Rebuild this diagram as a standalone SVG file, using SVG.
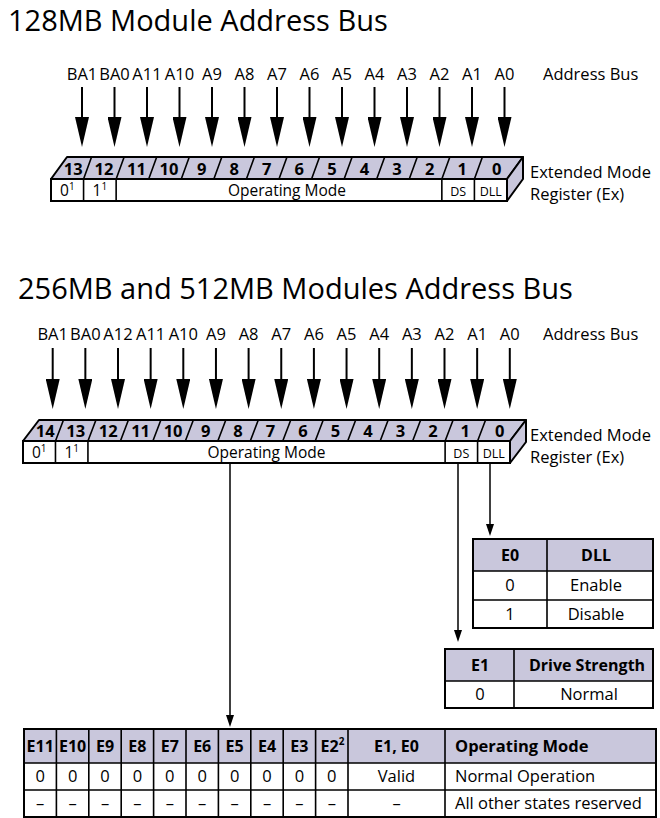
<svg xmlns="http://www.w3.org/2000/svg" width="660" height="818" viewBox="0 0 660 818">
<style>
text{font-family:"Open Sans","Noto Sans","DejaVu Sans",sans-serif;fill:#000}
.title{font-size:29px}
.lbl{font-size:16.5px;text-anchor:middle}
.side{font-size:16.5px}
.num{font-size:16.5px;font-weight:bold;text-anchor:middle}
.cell{font-size:15.5px;text-anchor:middle}
.small{font-size:12.5px;text-anchor:middle}
.sup{font-size:10px}
.th{font-size:16px;font-weight:bold;text-anchor:middle}
.thl{font-size:16.5px;font-weight:bold}
.td{font-size:16.5px;text-anchor:middle}
.tl{font-size:16.5px}
.face{fill:#c9c7dc;stroke:#000;stroke-width:2;stroke-linejoin:round}
.box{fill:none;stroke:#000;stroke-width:2}
.ln{stroke:#000;stroke-width:1.6;fill:none}
.hd{fill:#c9c7dc}
.bus{stroke:#000;stroke-width:2;marker-end:url(#big)}
.wire{stroke:#000;stroke-width:1.5;fill:none;marker-end:url(#sm)}
</style>
<defs>
<marker id="big" markerUnits="userSpaceOnUse" viewBox="0 0 30 14" refX="1" refY="7" markerWidth="30" markerHeight="14" orient="auto"><path d="M0,0 L30,7 L0,14 z" fill="#000"/></marker>
<marker id="sm" markerUnits="userSpaceOnUse" viewBox="0 0 12 8" refX="1" refY="4" markerWidth="12" markerHeight="8" orient="auto"><path d="M0,0 L12,4 L0,8 z" fill="#000"/></marker>
</defs>

<text class="title" x="8" y="31">128MB Module Address Bus</text>
<text class="title" x="18" y="299">256MB and 512MB Modules Address Bus</text>

<g id="bus1">
<text class="side" x="543" y="80">Address Bus</text>
<text class="lbl" x="82" y="80">BA1</text>
<text class="lbl" x="114.5" y="80">BA0</text>
<text class="lbl" x="147" y="80">A11</text>
<text class="lbl" x="179.5" y="80">A10</text>
<text class="lbl" x="212" y="80">A9</text>
<text class="lbl" x="244.5" y="80">A8</text>
<text class="lbl" x="277" y="80">A7</text>
<text class="lbl" x="309.5" y="80">A6</text>
<text class="lbl" x="342" y="80">A5</text>
<text class="lbl" x="374.5" y="80">A4</text>
<text class="lbl" x="407" y="80">A3</text>
<text class="lbl" x="439.5" y="80">A2</text>
<text class="lbl" x="472" y="80">A1</text>
<text class="lbl" x="504.5" y="80">A0</text>
</g>

<g id="register1">
<path class="face" d="M51,179 L67,157 L523,157 L507,179 Z"/>
<path class="face" d="M507,179 L523,157 L523,179 L507,201 Z"/>
<rect class="box" x="51" y="179" width="456" height="22" fill="#fff"/>
<g class="ln">
<path d="M83.57,179 l8,-22 M116.14,179 l8,-22 M148.71,179 l8,-22 M181.28,179 l8,-22 M213.85,179 l8,-22 M246.42,179 l8,-22 M278.99,179 l8,-22 M311.56,179 l8,-22 M344.13,179 l8,-22 M376.7,179 l8,-22 M409.27,179 l8,-22 M441.84,179 l8,-22 M474.41,179 l8,-22"/>
<path d="M83.57,179 V201 M116.14,179 V201 M441.84,179 V201 M474.41,179 V201"/>
</g>
<text class="num" x="73.3" y="174.5">13</text>
<text class="num" x="103.9" y="174.5">12</text>
<text class="num" x="136.4" y="174.5">11</text>
<text class="num" x="169" y="174.5">10</text>
<text class="num" x="201.6" y="174.5">9</text>
<text class="num" x="234.2" y="174.5">8</text>
<text class="num" x="266.7" y="174.5">7</text>
<text class="num" x="299.3" y="174.5">6</text>
<text class="num" x="331.9" y="174.5">5</text>
<text class="num" x="364.4" y="174.5">4</text>
<text class="num" x="397" y="174.5">3</text>
<text class="num" x="429.6" y="174.5">2</text>
<text class="num" x="462.1" y="174.5">1</text>
<text class="num" x="496.7" y="174.5">0</text>
<text class="cell" x="67.3" y="196">0<tspan class="sup" dy="-6">1</tspan></text>
<text class="cell" x="99.9" y="196">1<tspan class="sup" dy="-6">1</tspan></text>
<text class="cell" x="287" y="196">Operating Mode</text>
<text class="small" x="458.1" y="195.5">DS</text>
<text class="small" x="490.7" y="195.5">DLL</text>
<text class="side" x="530" y="178">Extended Mode</text>
<text class="side" x="530" y="200">Register (Ex)</text>
</g>

<g id="bus2">
<text class="side" x="543" y="340">Address Bus</text>
<text class="lbl" x="52.7" y="340">BA1</text>
<text class="lbl" x="85.35" y="340">BA0</text>
<text class="lbl" x="118" y="340">A12</text>
<text class="lbl" x="150.65" y="340">A11</text>
<text class="lbl" x="183.3" y="340">A10</text>
<text class="lbl" x="215.95" y="340">A9</text>
<text class="lbl" x="248.6" y="340">A8</text>
<text class="lbl" x="281.25" y="340">A7</text>
<text class="lbl" x="313.9" y="340">A6</text>
<text class="lbl" x="346.55" y="340">A5</text>
<text class="lbl" x="379.2" y="340">A4</text>
<text class="lbl" x="411.85" y="340">A3</text>
<text class="lbl" x="444.5" y="340">A2</text>
<text class="lbl" x="477.15" y="340">A1</text>
<text class="lbl" x="509.8" y="340">A0</text>
</g>

<g id="register2">
<path class="face" d="M23,441 L39,420 L526,420 L510,441 Z"/>
<path class="face" d="M510,441 L526,420 L526,442 L510,463 Z"/>
<rect class="box" x="23" y="441" width="487" height="22" fill="#fff"/>
<g class="ln">
<path d="M55.47,441 l8,-21 M87.94,441 l8,-21 M120.41,441 l8,-21 M152.88,441 l8,-21 M185.35,441 l8,-21 M217.82,441 l8,-21 M250.29,441 l8,-21 M282.76,441 l8,-21 M315.23,441 l8,-21 M347.7,441 l8,-21 M380.17,441 l8,-21 M412.64,441 l8,-21 M445.11,441 l8,-21 M477.58,441 l8,-21"/>
<path d="M55.47,441 V463 M87.94,441 V463 M445.11,441 V463 M477.58,441 V463"/>
</g>
<text class="num" x="45.2" y="436.5">14</text>
<text class="num" x="75.7" y="436.5">13</text>
<text class="num" x="108.2" y="436.5">12</text>
<text class="num" x="140.6" y="436.5">11</text>
<text class="num" x="173.1" y="436.5">10</text>
<text class="num" x="205.6" y="436.5">9</text>
<text class="num" x="238" y="436.5">8</text>
<text class="num" x="270.5" y="436.5">7</text>
<text class="num" x="303" y="436.5">6</text>
<text class="num" x="335.5" y="436.5">5</text>
<text class="num" x="367.9" y="436.5">4</text>
<text class="num" x="400.4" y="436.5">3</text>
<text class="num" x="432.9" y="436.5">2</text>
<text class="num" x="465.3" y="436.5">1</text>
<text class="num" x="499.8" y="436.5">0</text>
<text class="cell" x="39.2" y="458">0<tspan class="sup" dy="-6">1</tspan></text>
<text class="cell" x="71.7" y="458">1<tspan class="sup" dy="-6">1</tspan></text>
<text class="cell" x="266.5" y="458">Operating Mode</text>
<text class="small" x="461.3" y="457.5">DS</text>
<text class="small" x="493.8" y="457.5">DLL</text>
<text class="side" x="530" y="441">Extended Mode</text>
<text class="side" x="530" y="463">Register (Ex)</text>
</g>

<g id="dll-table">
<rect class="hd" x="473" y="539" width="180" height="32"/>
<rect class="box" x="473" y="539" width="180" height="89"/>
<path class="ln" d="M547,539 V628 M473,571 H653 M473,600 H653"/>
<text class="th" x="510" y="561">E0</text>
<text class="th" x="596" y="561">DLL</text>
<text class="td" x="510" y="591">0</text>
<text class="td" x="596" y="591">Enable</text>
<text class="td" x="510" y="620">1</text>
<text class="td" x="596" y="620">Disable</text>
</g>

<g id="ds-table">
<rect class="hd" x="445" y="649" width="208" height="32"/>
<rect class="box" x="445" y="649" width="208" height="59"/>
<path class="ln" d="M514,649 V708 M445,681 H653"/>
<text class="th" x="480" y="671">E1</text>
<text class="th" x="587" y="671">Drive Strength</text>
<text class="td" x="480" y="700">0</text>
<text class="td" x="589" y="700">Normal</text>
</g>

<g id="opmode-table">
<rect class="hd" x="24" y="729" width="632" height="34"/>
<rect class="box" x="24" y="729" width="632" height="88"/>
<path class="ln" d="M56.4,729 V817 M88.8,729 V817 M121.2,729 V817 M153.6,729 V817 M186,729 V817 M218.4,729 V817 M250.8,729 V817 M283.2,729 V817 M315.6,729 V817 M348,729 V817 M445,729 V817 M24,763 H656 M24,790 H656"/>
<text class="th" x="40.2" y="752">E11</text>
<text class="th" x="72.6" y="752">E10</text>
<text class="th" x="105" y="752">E9</text>
<text class="th" x="137.4" y="752">E8</text>
<text class="th" x="169.8" y="752">E7</text>
<text class="th" x="202.2" y="752">E6</text>
<text class="th" x="234.6" y="752">E5</text>
<text class="th" x="267" y="752">E4</text>
<text class="th" x="299.4" y="752">E3</text>
<text class="th" x="332.5" y="752">E2<tspan class="sup" dy="-7">2</tspan></text>
<text class="th" x="396.5" y="752">E1, E0</text>
<text class="thl" x="455" y="752">Operating Mode</text>
<text class="td" x="40.2" y="782">0</text>
<text class="td" x="72.6" y="782">0</text>
<text class="td" x="105" y="782">0</text>
<text class="td" x="137.4" y="782">0</text>
<text class="td" x="169.8" y="782">0</text>
<text class="td" x="202.2" y="782">0</text>
<text class="td" x="234.6" y="782">0</text>
<text class="td" x="267" y="782">0</text>
<text class="td" x="299.4" y="782">0</text>
<text class="td" x="331.8" y="782">0</text>
<text class="td" x="396.5" y="782">Valid</text>
<text class="tl" x="455" y="782">Normal Operation</text>
<text class="td" x="40.2" y="809">–</text>
<text class="td" x="72.6" y="809">–</text>
<text class="td" x="105" y="809">–</text>
<text class="td" x="137.4" y="809">–</text>
<text class="td" x="169.8" y="809">–</text>
<text class="td" x="202.2" y="809">–</text>
<text class="td" x="234.6" y="809">–</text>
<text class="td" x="267" y="809">–</text>
<text class="td" x="299.4" y="809">–</text>
<text class="td" x="331.8" y="809">–</text>
<text class="td" x="396.5" y="809">–</text>
<text class="tl" x="455" y="809">All other states reserved</text>
</g>

<g id="connectors">
<line class="bus" x1="82" y1="87" x2="82" y2="118"/>
<line class="bus" x1="114.5" y1="87" x2="114.5" y2="118"/>
<line class="bus" x1="147" y1="87" x2="147" y2="118"/>
<line class="bus" x1="179.5" y1="87" x2="179.5" y2="118"/>
<line class="bus" x1="212" y1="87" x2="212" y2="118"/>
<line class="bus" x1="244.5" y1="87" x2="244.5" y2="118"/>
<line class="bus" x1="277" y1="87" x2="277" y2="118"/>
<line class="bus" x1="309.5" y1="87" x2="309.5" y2="118"/>
<line class="bus" x1="342" y1="87" x2="342" y2="118"/>
<line class="bus" x1="374.5" y1="87" x2="374.5" y2="118"/>
<line class="bus" x1="407" y1="87" x2="407" y2="118"/>
<line class="bus" x1="439.5" y1="87" x2="439.5" y2="118"/>
<line class="bus" x1="472" y1="87" x2="472" y2="118"/>
<line class="bus" x1="504.5" y1="87" x2="504.5" y2="118"/>
<line class="bus" x1="52.7" y1="348" x2="52.7" y2="380"/>
<line class="bus" x1="85.35" y1="348" x2="85.35" y2="380"/>
<line class="bus" x1="118" y1="348" x2="118" y2="380"/>
<line class="bus" x1="150.65" y1="348" x2="150.65" y2="380"/>
<line class="bus" x1="183.3" y1="348" x2="183.3" y2="380"/>
<line class="bus" x1="215.95" y1="348" x2="215.95" y2="380"/>
<line class="bus" x1="248.6" y1="348" x2="248.6" y2="380"/>
<line class="bus" x1="281.25" y1="348" x2="281.25" y2="380"/>
<line class="bus" x1="313.9" y1="348" x2="313.9" y2="380"/>
<line class="bus" x1="346.55" y1="348" x2="346.55" y2="380"/>
<line class="bus" x1="379.2" y1="348" x2="379.2" y2="380"/>
<line class="bus" x1="411.85" y1="348" x2="411.85" y2="380"/>
<line class="bus" x1="444.5" y1="348" x2="444.5" y2="380"/>
<line class="bus" x1="477.15" y1="348" x2="477.15" y2="380"/>
<line class="bus" x1="509.8" y1="348" x2="509.8" y2="380"/>
<line class="wire" x1="490" y1="463" x2="490" y2="525"/>
<line class="wire" x1="458" y1="463" x2="458" y2="631"/>
<line class="wire" x1="230" y1="463" x2="230" y2="716"/>
</g>
</svg>
